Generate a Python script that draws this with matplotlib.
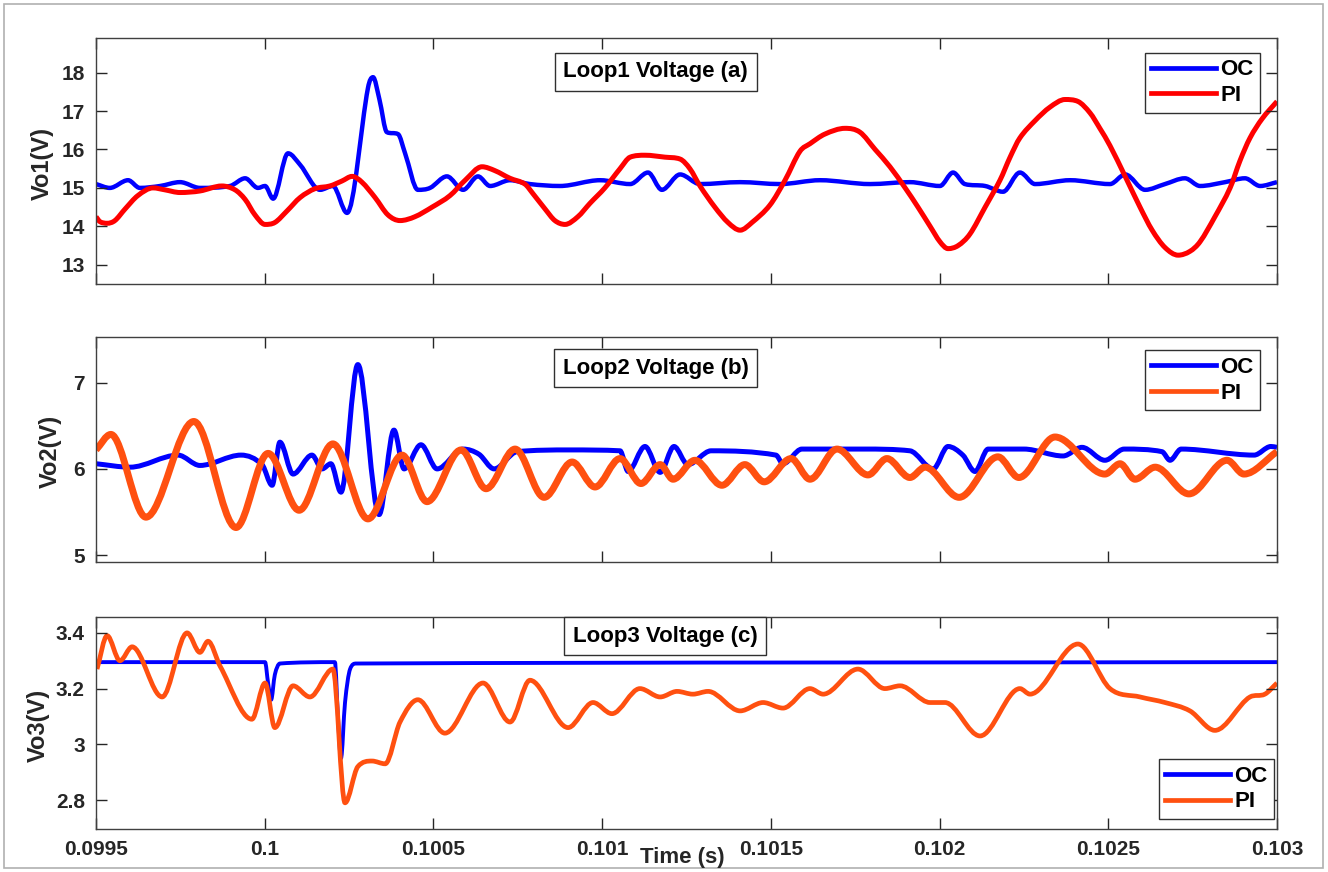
import numpy as np
import matplotlib
matplotlib.use("Agg")
import matplotlib.pyplot as plt
from matplotlib.patches import Rectangle, PathPatch
from matplotlib.path import Path
from matplotlib.lines import Line2D
from matplotlib.ticker import FuncFormatter

plt.rcParams['font.family'] = ['Liberation Sans', 'DejaVu Sans']
plt.rcParams['font.weight'] = 'bold'

DPI = 100
TXT = '#262626'
T0 = 0.0995  # s, start of the window; times below are offsets in microseconds

# ---- loop 1 ----
t1_oc = [0, 41, 95, 130, 190, 249, 308, 397, 442, 480, 501, 525, 569, 605, 664, 702,
         744, 806, 821, 840, 862, 895, 916, 954, 990, 1040, 1088, 1132, 1168, 1227, 1286,
         1375, 1494, 1583, 1636, 1677, 1731, 1790, 1909, 2027, 2146, 2294, 2412, 2501,
         2540, 2575, 2635, 2688, 2738, 2783, 2887, 3005, 3050, 3109, 3168, 3227, 3272,
         3346, 3405, 3450, 3500]
v1_oc = [15.10, 15.00, 15.20, 15.00, 15.05, 15.15, 15.00, 15.05, 15.25, 15.00, 15.05,
         14.72, 15.90, 15.60, 14.95, 15.05, 14.35, 17.60, 17.88, 17.30, 16.45, 16.40,
         15.90, 14.95, 15.00, 15.30, 14.95, 15.30, 15.05, 15.20, 15.10, 15.05, 15.20,
         15.10, 15.40, 14.95, 15.35, 15.10, 15.15, 15.10, 15.20, 15.10, 15.15, 15.05,
         15.40, 15.10, 15.05, 14.90, 15.40, 15.10, 15.20, 15.10, 15.35, 14.95, 15.10,
         15.25, 15.05, 15.15, 15.25, 15.05, 15.15]
t1_pi = [0, 12, 33, 56, 86, 124, 169, 204, 249, 308, 373, 412, 442, 471, 501, 530, 566,
         605, 649, 693, 729, 759, 788, 827, 865, 901, 945, 996, 1049, 1094, 1144, 1182,
         1227, 1271, 1295, 1331, 1360, 1390, 1428, 1464, 1508, 1553, 1583, 1627, 1686,
         1731, 1760, 1790, 1834, 1873, 1909, 1944, 1997, 2042, 2086, 2116, 2160, 2220,
         2264, 2309, 2353, 2398, 2436, 2472, 2501, 2525, 2555, 2590, 2635, 2679, 2709,
         2738, 2783, 2827, 2872, 2910, 2946, 2975, 3005, 3050, 3094, 3130, 3168, 3207,
         3242, 3272, 3316, 3361, 3390, 3420, 3456, 3500]
v1_pi = [14.25, 14.12, 14.08, 14.15, 14.45, 14.80, 15.00, 14.95, 14.88, 14.92, 15.05,
         14.95, 14.70, 14.30, 14.05, 14.10, 14.40, 14.75, 14.98, 15.05, 15.18, 15.30,
         15.15, 14.75, 14.30, 14.15, 14.25, 14.50, 14.80, 15.20, 15.55, 15.45, 15.25,
         15.10, 14.85, 14.45, 14.15, 14.05, 14.25, 14.60, 15.00, 15.50, 15.80, 15.85,
         15.80, 15.75, 15.50, 15.05, 14.50, 14.10, 13.90, 14.10, 14.55, 15.20, 15.95,
         16.15, 16.40, 16.55, 16.45, 16.00, 15.55, 15.00, 14.50, 14.00, 13.60, 13.42,
         13.50, 13.80, 14.50, 15.20, 15.80, 16.30, 16.75, 17.10, 17.30, 17.25, 16.95,
         16.55, 16.10, 15.30, 14.50, 13.90, 13.45, 13.25, 13.35, 13.60, 14.25, 15.00,
         15.70, 16.30, 16.80, 17.25]

# ---- loop 2 ----
t2_oc = [0, 101, 243, 308, 430, 492, 522, 545, 584, 640, 670, 696, 726, 776, 839, 883,
         913, 963, 1011, 1088, 1135, 1180, 1248, 1405, 1553, 1577, 1627, 1672, 1713,
         1754, 1823, 2015, 2036, 2092, 2276, 2412, 2481, 2525, 2569, 2605, 2644, 2750,
         2866, 2922, 2990, 3047, 3159, 3183, 3216, 3432, 3482, 3500]
v2_oc = [6.06, 6.02, 6.16, 6.04, 6.16, 6.05, 5.81, 6.31, 5.94, 6.16, 6.00, 6.06, 5.73,
         7.21, 5.47, 6.45, 6.00, 6.28, 6.00, 6.23, 6.17, 6.00, 6.20, 6.22, 6.21, 5.97,
         6.26, 5.96, 6.26, 6.05, 6.21, 6.16, 6.06, 6.23, 6.23, 6.21, 6.00, 6.26, 6.16,
         5.97, 6.23, 6.23, 6.15, 6.25, 6.10, 6.23, 6.20, 6.10, 6.23, 6.16, 6.26, 6.25]
t2_pi = [0, 44, 148, 290, 415, 510, 602, 702, 806, 907, 981, 1082, 1156, 1242, 1328,
         1411, 1479, 1553, 1615, 1672, 1710, 1775, 1855, 1923, 1980, 2060, 2116, 2196,
         2288, 2344, 2412, 2457, 2558, 2673, 2735, 2842, 2990, 3035, 3079, 3139, 3239,
         3352, 3402, 3500]
v2_pi = [6.22, 6.40, 5.44, 6.55, 5.32, 6.18, 5.52, 6.29, 5.42, 6.16, 5.62, 6.22, 5.77,
         6.23, 5.67, 6.08, 5.79, 6.12, 5.83, 6.05, 5.88, 6.10, 5.81, 6.05, 5.85, 6.12,
         5.88, 6.23, 5.93, 6.12, 5.90, 6.02, 5.67, 6.14, 5.90, 6.37, 5.94, 6.06, 5.88,
         6.02, 5.71, 6.10, 5.94, 6.20]

# ---- loop 3 ----
t3_oc = [0, 501, 510, 519, 530, 545, 708, 717, 726, 738, 753, 771, 3500]
v3_oc = [3.295, 3.295, 3.22, 3.16, 3.25, 3.29, 3.295, 3.10, 2.95, 3.15, 3.27, 3.29, 3.295]
t3_pi = [3, 33, 71, 107, 196, 270, 308, 332, 368, 462, 501, 530, 584, 634, 702, 738,
         776, 818, 857, 901, 954, 1034, 1147, 1227, 1286, 1399, 1473, 1529, 1612, 1672,
         1722, 1769, 1814, 1909, 1977, 2036, 2116, 2155, 2258, 2338, 2383, 2472, 2516,
         2620, 2738, 2768, 2910, 3005, 3094, 3168, 3242, 3316, 3420, 3464, 3500]
v3_pi = [3.27, 3.39, 3.30, 3.35, 3.17, 3.40, 3.33, 3.37, 3.28, 3.09, 3.22, 3.06, 3.21,
         3.17, 3.27, 2.79, 2.92, 2.94, 2.93, 3.08, 3.16, 3.04, 3.22, 3.08, 3.23, 3.06,
         3.15, 3.11, 3.20, 3.17, 3.19, 3.18, 3.19, 3.12, 3.15, 3.13, 3.20, 3.18, 3.27,
         3.20, 3.21, 3.15, 3.15, 3.03, 3.20, 3.18, 3.36, 3.20, 3.17, 3.15, 3.12, 3.05,
         3.17, 3.18, 3.22]

xticks = [0.0995, 0.1, 0.1005, 0.101, 0.1015, 0.102, 0.1025, 0.103]

BLUE = '#0000ff'
RED = '#ff0000'
ORANGE = '#ff5010'


def smooth_path(us, v):
    """Cubic Hermite path through the samples, flat at local extrema."""
    x = T0 + np.asarray(us, float) * 1e-6
    y = np.asarray(v, float)
    n = len(x)
    d = np.diff(y) / np.diff(x)
    m = np.zeros(n)
    m[0], m[-1] = d[0], d[-1]
    for i in range(1, n - 1):
        if d[i - 1] * d[i] > 0:
            s = (y[i + 1] - y[i - 1]) / (x[i + 1] - x[i - 1])
            lim = 3 * min(abs(d[i - 1]), abs(d[i]))
            m[i] = np.sign(s) * min(abs(s), lim)
    verts = [(x[0], y[0])]
    codes = [Path.MOVETO]
    for i in range(n - 1):
        h = x[i + 1] - x[i]
        verts += [(x[i] + h / 3, y[i] + m[i] * h / 3),
                  (x[i + 1] - h / 3, y[i + 1] - m[i + 1] * h / 3),
                  (x[i + 1], y[i + 1])]
        codes += [Path.CURVE4] * 3
    return Path(verts, codes)


fig = plt.figure(figsize=(1328 / DPI, 872 / DPI), dpi=DPI)
# thin frame around the whole figure
fig.patches.append(Rectangle((4 / 1328, 4 / 872), 1319 / 1328, 864 / 872,
                             transform=fig.transFigure, fill=False,
                             edgecolor='#b0b0b0', lw=1.2))

# axes boxes in pixels: left, top, right, bottom
boxes = [(96, 38, 1277, 284), (96, 337, 1277, 562), (96, 617, 1277, 829)]
axs = []
for l, t, r, b in boxes:
    axs.append(fig.add_axes([l / 1328, 1 - b / 872, (r - l) / 1328, (b - t) / 872]))

panels = [
    (t1_oc, v1_oc, 3.2, t1_pi, v1_pi, RED, 3.6, (12.5, 18.9), [13, 14, 15, 16, 17, 18],
     'Vo1(V)', 'Loop1 Voltage (a)', (0.474, 0.862), -0.036),
    (t2_oc, v2_oc, 3.6, t2_pi, v2_pi, ORANGE, 5.0, (4.92, 7.53), [5, 6, 7],
     'Vo2(V)', 'Loop2 Voltage (b)', (0.474, 0.862), -0.029),
    (t3_oc, v3_oc, 2.8, t3_pi, v3_pi, ORANGE, 3.4, (2.696, 3.457), [2.8, 3.0, 3.2, 3.4],
     'Vo3(V)', 'Loop3 Voltage (c)', (0.482, 0.91), -0.039),
]

for i, (ax, p) in enumerate(zip(axs, panels)):
    toc, voc, olw, tpi, vpi, pcol, plw, ylim, yt, ylab, title, tpos, ylx = p
    ax.add_patch(PathPatch(smooth_path(toc, voc), fill=False, edgecolor=BLUE, lw=olw,
                           joinstyle='round', capstyle='butt'))
    ax.add_patch(PathPatch(smooth_path(tpi, vpi), fill=False, edgecolor=pcol, lw=plw,
                           joinstyle='round', capstyle='butt'))
    ax.set_xlim(0.0995, 0.103)
    ax.set_ylim(*ylim)
    ax.set_xticks(xticks)
    ax.set_yticks(yt)
    ax.xaxis.set_major_formatter(FuncFormatter(lambda v, pos: '%g' % v))
    ax.yaxis.set_major_formatter(FuncFormatter(lambda v, pos: '%g' % v))
    ax.tick_params(direction='in', length=8, width=1, top=True, right=True,
                   labelsize=15, colors=TXT, pad=8)
    if i < 2:
        ax.tick_params(labelbottom=False)
    for s in ax.spines.values():
        s.set_color('#404040')
        s.set_linewidth(1)
    ax.set_ylabel(ylab, fontsize=17, fontweight='bold', color=TXT)
    ax.yaxis.set_label_coords(ylx, 0.49)
    ax.text(tpos[0], tpos[1], title, transform=ax.transAxes, ha='center', va='center',
            fontsize=16, fontweight='bold', color='black', zorder=10,
            bbox=dict(boxstyle='square,pad=0.38', fc='white', ec='#303030', lw=1))

    handles = [Line2D([], [], color=BLUE, lw=3.4), Line2D([], [], color=pcol, lw=3.4)]
    leg_kw = dict(fontsize=16, frameon=True, fancybox=False, framealpha=1,
                  edgecolor='#303030', handlelength=2.9, handletextpad=0.2,
                  borderpad=0.3, labelspacing=0.2, borderaxespad=0)
    if i < 2:
        lg = ax.legend(handles, ['OC', 'PI'], loc='upper right',
                       bbox_to_anchor=(0.9856, 0.94), **leg_kw)
    else:
        lg = ax.legend(handles, ['OC', 'PI'], loc='lower right',
                       bbox_to_anchor=(0.9975, 0.047), **leg_kw)
    lg.get_frame().set_linewidth(1)

fig.text(682 / 1328, 1 - 857 / 872, 'Time (s)', ha='center', va='center',
         fontsize=16, fontweight='bold', color=TXT)

fig.savefig('out.png', dpi=DPI)
